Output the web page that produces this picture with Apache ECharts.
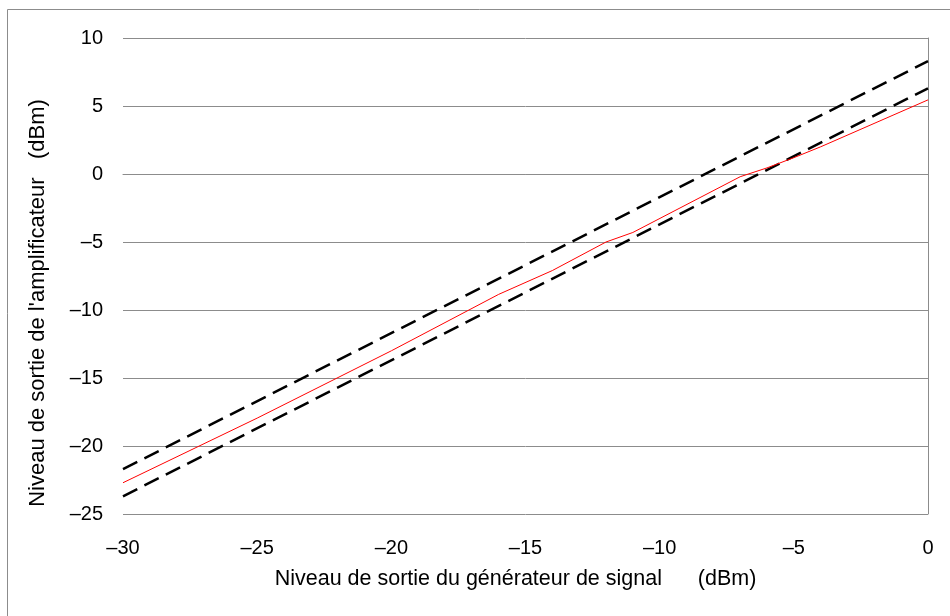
<!DOCTYPE html>
<html>
<head>
<meta charset="utf-8">
<script src="https://cdn.jsdelivr.net/npm/echarts@6/dist/echarts.min.js"></script>
<style>html,body{margin:0;padding:0;background:#fff}#c{width:950px;height:616px}</style>
</head>
<body>
<div id="c"></div>
<script>
var xTicks = [-30, -25, -20, -15, -10, -5, 0];
var yTicks = [-25, -20, -15, -10, -5, 0, 5, 10];
var upperX = [-30, 0];
var upperY = [-21.7, 8.3];
var lowerX = [-30, 0];
var lowerY = [-23.7, 6.3];
var measX = [-30, -25, -20, -16, -14, -12, -11, -7, -6, -5, -4, 0];
var measY = [-22.7, -17.95, -13.0, -8.85, -7.1, -5.0, -4.3, -0.2, 0.45, 1.2, 2.0, 5.45];

function pairs(xs, ys) { return xs.map(function (x, i) { return [x, ys[i]]; }); }
function fmt(v) { return String(v).replace('-', '\u2013'); }

var chart = echarts.init(document.getElementById('c'));
var font = 'Liberation Sans, Arial, sans-serif';
chart.setOption({
  animation: false,
  graphic: [{
    type: 'rect', shape: { x: 7.5, y: 9.5, width: 960, height: 620 },
    style: { fill: 'none', stroke: '#8c8c8c', lineWidth: 1 }, silent: true
  }],
  grid: { left: 123, right: 22, top: 38, bottom: 102 },
  xAxis: {
    type: 'value', min: -30, max: 0, interval: 5,
    axisLine: { show: true, lineStyle: { color: '#8c8c8c', width: 1 } },
    axisTick: { show: false },
    splitLine: { show: false },
    axisLabel: { formatter: fmt, color: '#000', fontSize: 20, fontFamily: font, margin: 24 },
    name: 'Niveau de sortie du g\u00e9n\u00e9rateur de signal      (dBm)',
    nameLocation: 'middle', nameGap: 54,
    nameTextStyle: { color: '#000', fontSize: 21.5, fontFamily: font, padding: [0, 20, 0, 0] }
  },
  yAxis: {
    type: 'value', min: -25, max: 10, interval: 5,
    axisLine: { show: true, lineStyle: { color: '#8c8c8c', width: 1 } },
    axisTick: { show: false },
    splitLine: { show: true, lineStyle: { color: '#8c8c8c', width: 1 } },
    axisLabel: { formatter: fmt, color: '#000', fontSize: 20, fontFamily: font, margin: 20 },
    name: "Niveau de sortie de l'amplificateur   (dBm)",
    nameLocation: 'middle', nameGap: 74,
    nameTextStyle: { color: '#000', fontSize: 22, fontFamily: font, padding: [0, 54, 0, 0] }
  },
  series: [
    { type: 'line', data: pairs(upperX, upperY), symbol: 'none',
      lineStyle: { color: '#000', width: 2.5, type: [16, 8] } },
    { type: 'line', data: pairs(lowerX, lowerY), symbol: 'none',
      lineStyle: { color: '#000', width: 2.5, type: [16, 8] } },
    { type: 'line', data: pairs(measX, measY), symbol: 'none',
      lineStyle: { color: '#ff0000', width: 1 } }
  ]
});
</script>
</body>
</html>
